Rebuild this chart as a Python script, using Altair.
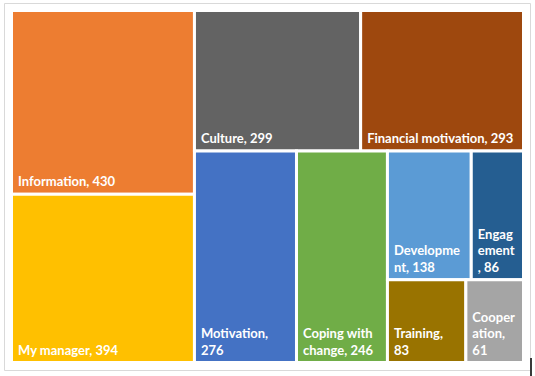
import altair as alt
import pandas as pd

# ---- data ----
categories = ["Information", "My manager", "Culture", "Financial motivation",
              "Motivation", "Coping with change", "Development", "Engagement",
              "Training", "Cooperation"]
values = [430, 394, 299, 293, 276, 246, 138, 86, 83, 61]
# labels as wrapped by the original chart
labels = ["Information, 430", "My manager, 394", "Culture, 299",
          "Financial motivation, 293", "Motivation,\n276",
          "Coping with\nchange, 246", "Developme\nnt, 138", "Engag\nement\n, 86",
          "Training,\n83", "Cooper\nation,\n61"]
colors = ["#ED7D31", "#FFC000", "#636363", "#9E480E", "#4472C4",
          "#70AD47", "#5B9BD5", "#255E91", "#997300", "#A5A5A5"]

# ---- treemap layout (split tree as in the original; sizes from values) ----
# "x": children side by side, "y": children stacked
tree = ("x", [("y", [0, 1]),
              ("y", [("x", [2, 3]),
                     ("x", [4, 5, ("y", [("x", [6, 7]), ("x", [8, 9])])])])])


def total(node):
    if isinstance(node, int):
        return values[node]
    return sum(total(c) for c in node[1])


rects = {}


def layout(node, x0, y0, w, h):
    if isinstance(node, int):
        rects[node] = (x0, y0, x0 + w, y0 + h)
        return
    d, kids = node
    s = total(node)
    pos = 0.0
    for k in kids:
        f = total(k) / s
        if d == "x":
            layout(k, x0 + pos, y0, w * f, h)
            pos += w * f
        else:
            layout(k, x0, y0 + pos, w, h * f)
            pos += h * f


layout(tree, 11.5, 10.5, 512, 352)

LH = 16.5
rows = []
for i, c in enumerate(categories):
    x0, y0, x1, y1 = rects[i]
    n = labels[i].count("\n")
    rows.append({"cat": c, "value": values[i], "label": labels[i],
                 "x0": x0, "y0": y0, "x1": x1, "y1": y1,
                 "tx": x0 + 6.5, "ty": y1 - 5 - n * LH})
df = pd.DataFrame(rows)

W, H = 535, 376
xs = alt.Scale(domain=[0, W], range=[0, W], nice=False, zero=False)
ys = alt.Scale(domain=[0, H], range=[0, H], nice=False, zero=False)

frame = alt.Chart(pd.DataFrame({"a": [0]})).mark_rect(
    fill="white", stroke="#D9D9D9", strokeWidth=1
).encode(x=alt.value(4.5), x2=alt.value(530.5), y=alt.value(3.5), y2=alt.value(370.5))

cursor = alt.Chart(pd.DataFrame({"a": [0]})).mark_rule(
    color="#3A3A3A", strokeWidth=2
).encode(x=alt.value(531), y=alt.value(358), y2=alt.value(376))

boxes = alt.Chart(df).mark_rect(stroke="white", strokeWidth=3).encode(
    x=alt.X("x0:Q", scale=xs, axis=None),
    x2="x1:Q",
    y=alt.Y("y0:Q", scale=ys, axis=None),
    y2="y1:Q",
    color=alt.Color("cat:N", scale=alt.Scale(domain=categories, range=colors), legend=None),
)

text = alt.Chart(df).mark_text(
    align="left", baseline="bottom", color="white", font="Lato",
    fontWeight="bold", fontSize=13, lineBreak="\n", lineHeight=LH
).encode(
    x=alt.X("tx:Q", scale=xs, axis=None),
    y=alt.Y("ty:Q", scale=ys, axis=None),
    text="label:N",
)

chart = alt.layer(frame, cursor, boxes, text).properties(
    width=W, height=H, padding=0, autosize=alt.AutoSizeParams(type="none"),
    background="white"
).configure_view(stroke=None)

chart.save("out.html", embed_options={"renderer": "svg", "actions": False})
